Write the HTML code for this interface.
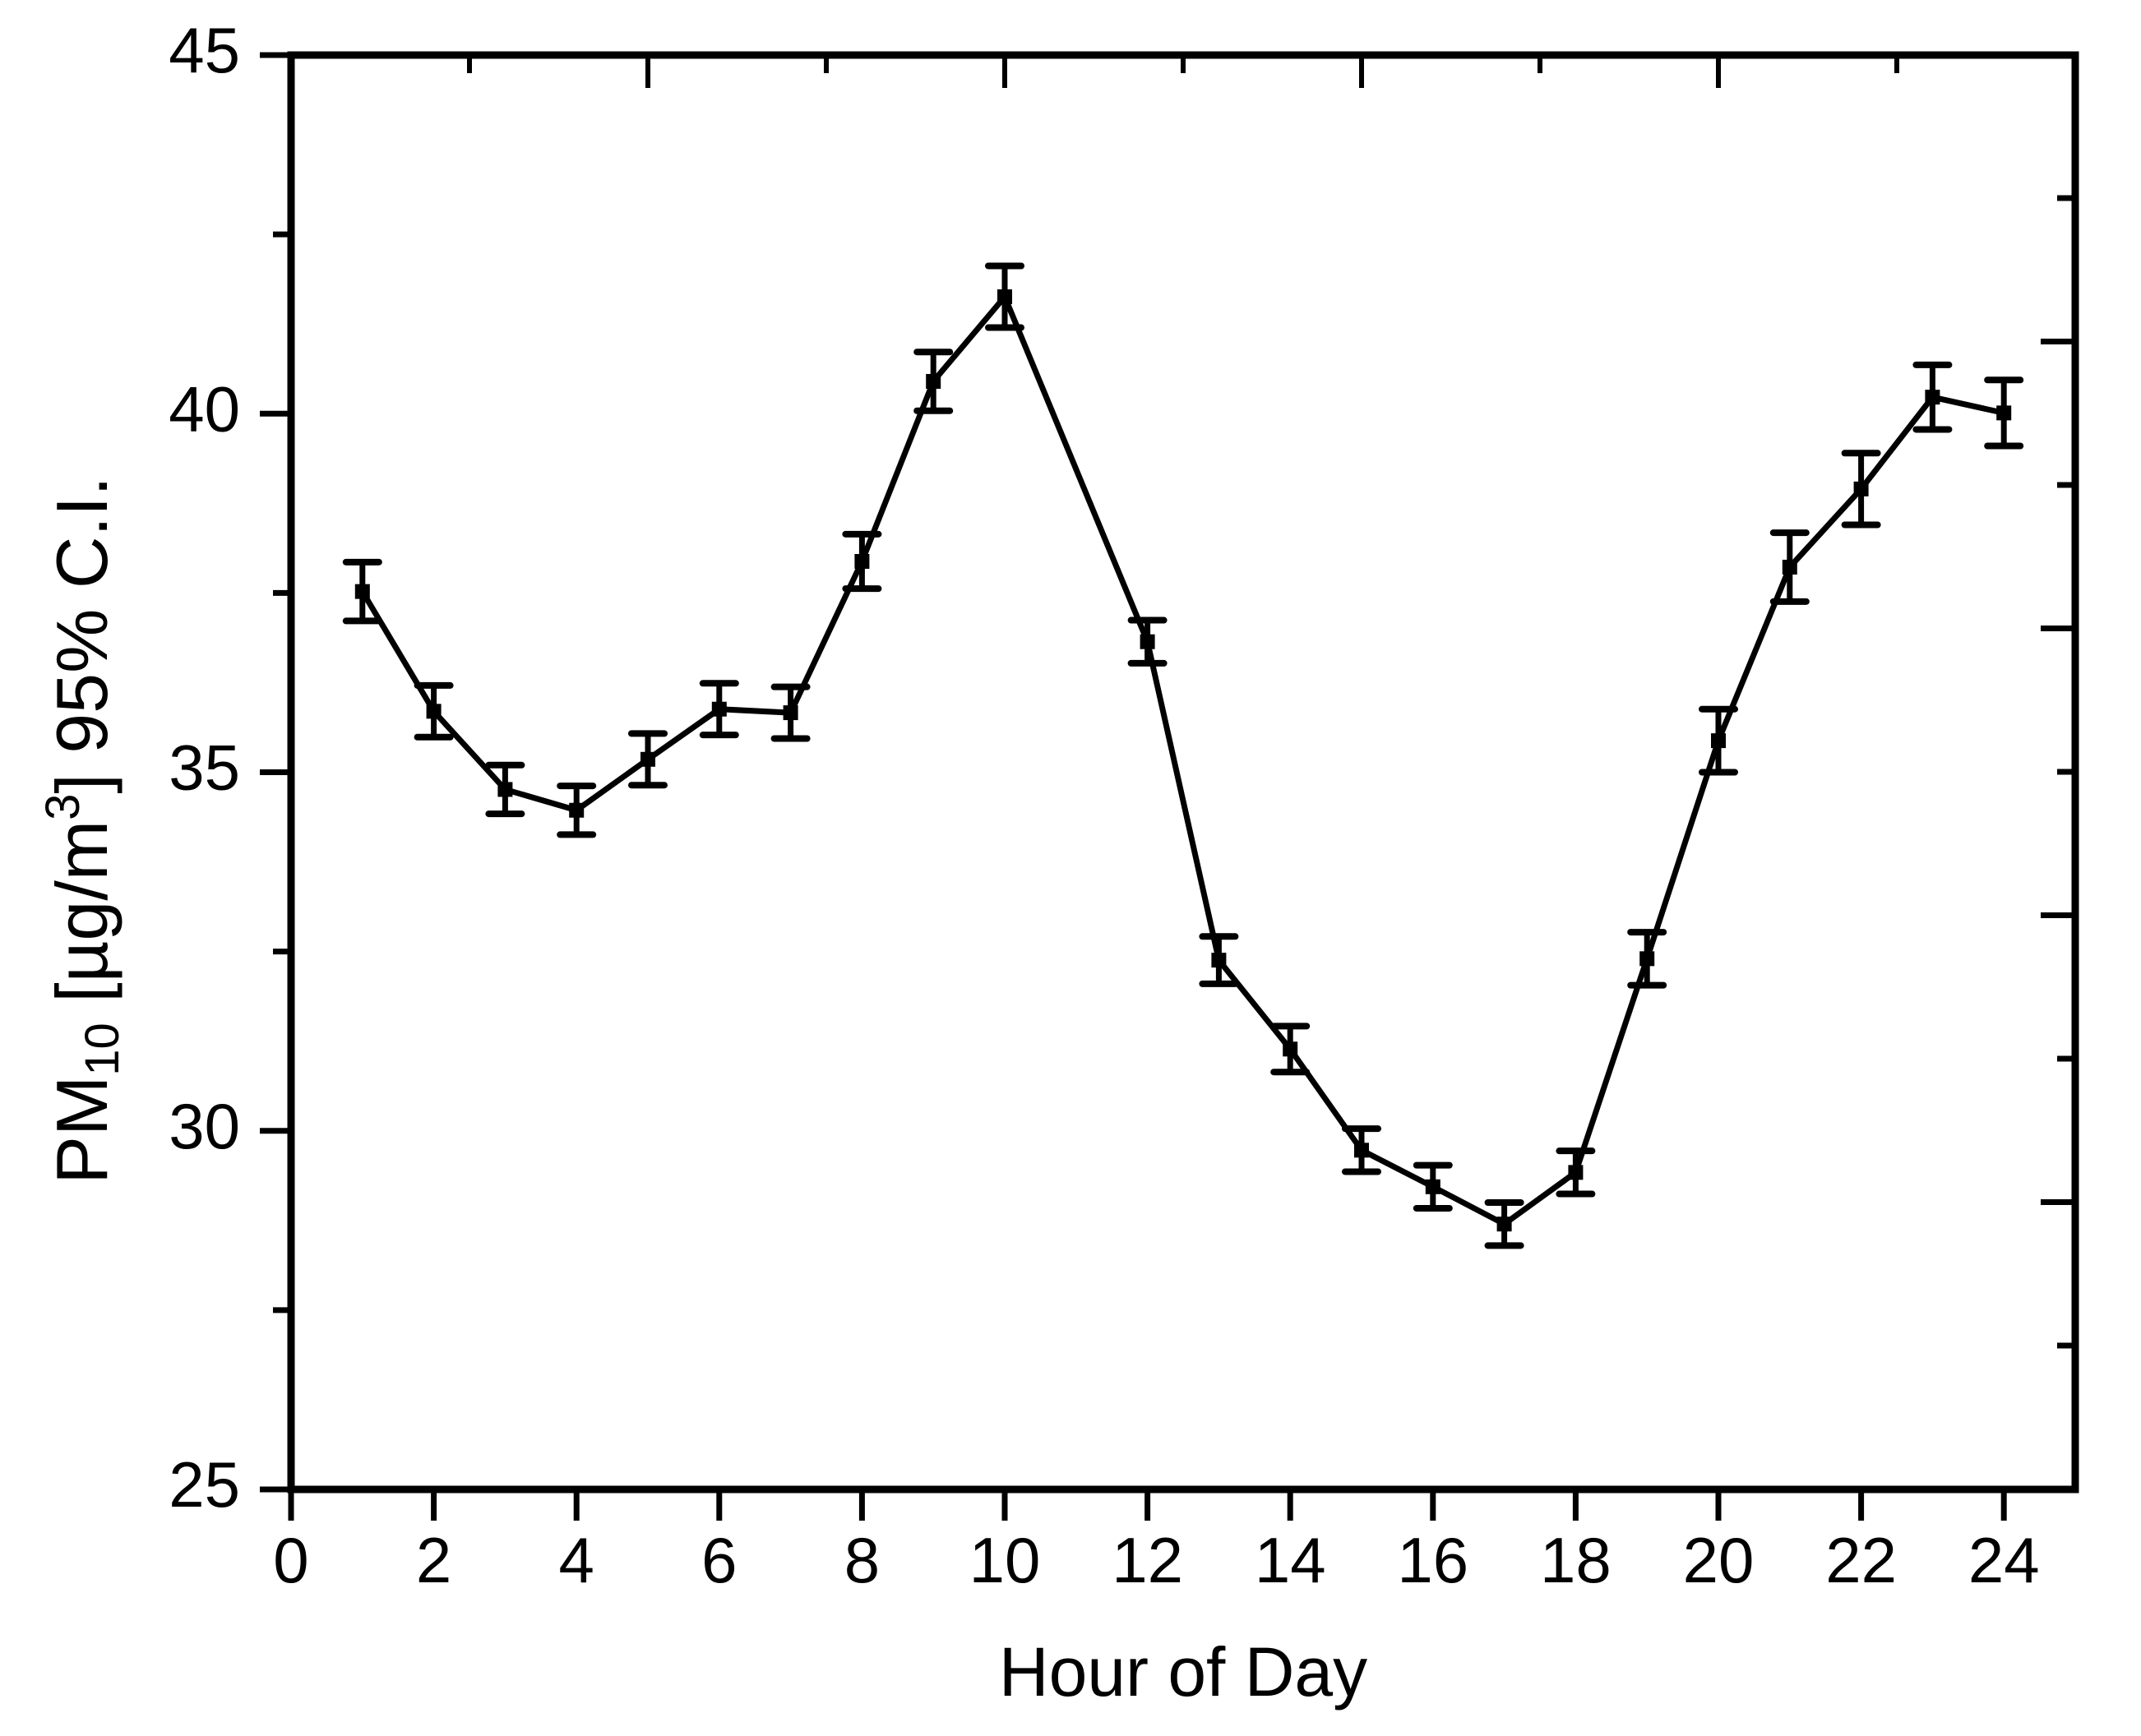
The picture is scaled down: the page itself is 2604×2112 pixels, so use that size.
<!DOCTYPE html>
<html><head><meta charset="utf-8"><style>
html,body{margin:0;padding:0;background:#fff;}
svg{display:block;font-family:"Liberation Sans",Arial,sans-serif;}
</style></head><body>
<svg id="chart" width="2604" height="2112" viewBox="0 0 2604 2112" xmlns="http://www.w3.org/2000/svg">
<rect width="2604" height="2112" fill="#fff"/>
<g id="axes"></g>
<g id="series"></g>
<text x="1439" y="2063" font-size="84" text-anchor="middle">Hour of Day</text>
<text transform="translate(130,1010) rotate(-90)" font-size="88" text-anchor="middle">PM<tspan font-size="58" dy="14">10</tspan><tspan dy="-14"> [µg/m</tspan><tspan font-size="58" dy="-34">3</tspan><tspan dy="34">] 95% C.I.</tspan></text>
</svg>
<script>
const hours = [1,2,3,4,5,6,7,8,9,10,12,13,14,15,16,17,18,19,20,21,22,23,24];
const pm10 = [37.52,35.85,34.76,34.47,35.18,35.88,35.83,37.94,40.45,41.63,36.82,32.38,31.14,29.73,29.22,28.70,29.42,32.40,35.44,37.86,38.95,40.23,40.01];
const ciHalf = [0.41,0.36,0.34,0.34,0.36,0.36,0.36,0.38,0.41,0.43,0.30,0.33,0.32,0.30,0.30,0.30,0.30,0.37,0.44,0.48,0.50,0.45,0.46];
const xTicks = [0,2,4,6,8,10,12,14,16,18,20,22,24];
const yTicks = [25,30,35,40,45];

const NS = "http://www.w3.org/2000/svg";
const L = 354, R = 2524, T = 67, B = 1812;
const xMin = 0, xMax = 25, yMin = 25, yMax = 45;
const sx = v => L + (v - xMin) / (xMax - xMin) * (R - L);
const sy = v => B - (v - yMin) / (yMax - yMin) * (B - T);
function mk(tag, attrs, parent) {
  const e = document.createElementNS(NS, tag);
  for (const k in attrs) e.setAttribute(k, attrs[k]);
  parent.appendChild(e);
  return e;
}
const axes = document.getElementById('axes');
const series = document.getElementById('series');

const frame = mk('rect', {x: L, y: T, width: R - L, height: B - T, fill: 'none', stroke: '#000', 'stroke-width': 9}, axes);



xTicks.forEach(v => {
  const x = sx(v);
  const t = mk('line', {x1: x, y1: B, x2: x, y2: B + 38, stroke: '#000', 'stroke-width': 7}, axes);
  
  
  const lb = mk('text', {x: x, y: 1925, 'font-size': 78, 'text-anchor': 'middle'}, axes);
  lb.textContent = v;
  
  
});
yTicks.forEach(v => {
  const y = sy(v);
  const t = mk('line', {x1: L - 38, y1: y, x2: L, y2: y, stroke: '#000', 'stroke-width': 7}, axes);
  
  
  const lb = mk('text', {x: 292, y: y + 21, 'font-size': 78, 'text-anchor': 'end'}, axes);
  lb.textContent = v;
  
  
});
for (let v = 27.5; v < 45; v += 5) {
  const m = mk('line', {x1: L - 22, y1: sy(v), x2: L, y2: sy(v), stroke: '#000', 'stroke-width': 7}, axes);
  
  
}
for (let i = 0; i < 9; i++) {
  const x = 571 + i * 217;
  const len = (i % 2 === 1) ? 40 : 22;
  const t = mk('line', {x1: x, y1: T, x2: x, y2: T + len, stroke: '#000', 'stroke-width': 6}, axes);
  
  
}
for (let i = 0; i < 9; i++) {
  const y = 241 + i * 174.5;
  const len = (i % 2 === 1) ? 42 : 22;
  const t = mk('line', {x1: R - len, y1: y, x2: R, y2: y, stroke: '#000', 'stroke-width': 7}, axes);
  
  
}

const pts = hours.map((h, i) => sx(h) + ',' + sy(pm10[i])).join(' ');
const line = mk('polyline', {points: pts, fill: 'none', stroke: '#000', 'stroke-width': 7, 'stroke-linejoin': 'miter'}, series);



hours.forEach((h, i) => {
  const x = sx(h), y = pm10[i];
  const yt = sy(y + ciHalf[i]), yb = sy(y - ciHalf[i]);
  const g = mk('g', {}, series);
  
  
  mk('line', {x1: x, y1: yt, x2: x, y2: yb, stroke: '#000', 'stroke-width': 7}, g);
  mk('line', {x1: x - 20, y1: yt, x2: x + 20, y2: yt, stroke: '#000', 'stroke-width': 8, 'stroke-linecap': 'round'}, g);
  mk('line', {x1: x - 20, y1: yb, x2: x + 20, y2: yb, stroke: '#000', 'stroke-width': 8, 'stroke-linecap': 'round'}, g);
  const m = mk('rect', {x: x - 9, y: sy(y) - 9, width: 18, height: 18, fill: '#000'}, series);
  
  
});
</script>
</body></html>
